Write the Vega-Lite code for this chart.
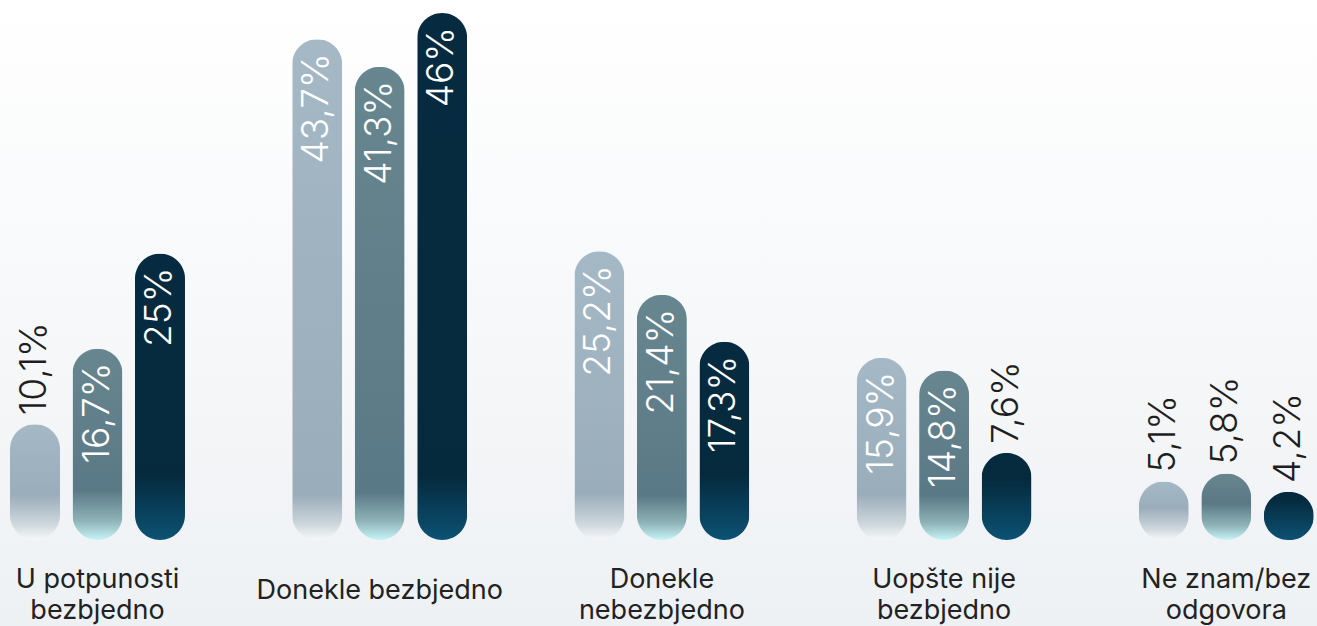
{
  "$schema": "https://vega.github.io/schema/vega-lite/v6.json",
  "width": 1317,
  "height": 626,
  "autosize": {"type": "none"},
  "padding": 0,
  "background": "#f3f5f7",
  "config": {
    "view": {"stroke": null, "fill": {"gradient": "linear", "x1": 0, "y1": 0, "x2": 0, "y2": 1, "stops": [{"offset": 0, "color": "#ffffff"}, {"offset": 1, "color": "#eef1f4"}]}},
    "font": "Inter"
  },
  "data": {
    "values": [
      {"cat": "U potpunosti bezbjedno", "series": "s1", "value": 10.1, "label": "10,1%"},
      {"cat": "U potpunosti bezbjedno", "series": "s2", "value": 16.7, "label": "16,7%"},
      {"cat": "U potpunosti bezbjedno", "series": "s3", "value": 25, "label": "25%"},
      {"cat": "Donekle bezbjedno", "series": "s1", "value": 43.7, "label": "43,7%"},
      {"cat": "Donekle bezbjedno", "series": "s2", "value": 41.3, "label": "41,3%"},
      {"cat": "Donekle bezbjedno", "series": "s3", "value": 46, "label": "46%"},
      {"cat": "Donekle nebezbjedno", "series": "s1", "value": 25.2, "label": "25,2%"},
      {"cat": "Donekle nebezbjedno", "series": "s2", "value": 21.4, "label": "21,4%"},
      {"cat": "Donekle nebezbjedno", "series": "s3", "value": 17.3, "label": "17,3%"},
      {"cat": "Uopšte nije bezbjedno", "series": "s1", "value": 15.9, "label": "15,9%"},
      {"cat": "Uopšte nije bezbjedno", "series": "s2", "value": 14.8, "label": "14,8%"},
      {"cat": "Uopšte nije bezbjedno", "series": "s3", "value": 7.6, "label": "7,6%"},
      {"cat": "Ne znam/bez odgovora", "series": "s1", "value": 5.1, "label": "5,1%"},
      {"cat": "Ne znam/bez odgovora", "series": "s2", "value": 5.8, "label": "5,8%"},
      {"cat": "Ne znam/bez odgovora", "series": "s3", "value": 4.2, "label": "4,2%"}
    ]
  },
  "encoding": {
    "x": {
      "field": "cat", "type": "nominal", "sort": null,
      "scale": {"range": [-43.6, 1367.4], "paddingInner": 0.3356, "paddingOuter": 0.1678},
      "axis": {
        "title": null, "domain": false, "ticks": false, "tickSize": 0, "labelAngle": 0,
        "offset": -86,
        "labelPadding": {"condition": {"test": "datum.value == 'Donekle bezbjedno'", "value": 50}, "value": 39},
        "labelBaseline": "middle",
        "labelFontSize": 27, "labelColor": "#222222", "labelFont": "Inter", "labelLineHeight": 31, "labelLimit": 0,
        "labelExpr": "datum.value == 'U potpunosti bezbjedno' ? ['U potpunosti', 'bezbjedno'] : datum.value == 'Donekle nebezbjedno' ? ['Donekle', 'nebezbjedno'] : datum.value == 'Uopšte nije bezbjedno' ? ['Uopšte nije', 'bezbjedno'] : datum.value == 'Ne znam/bez odgovora' ? ['Ne znam/bez', 'odgovora'] : datum.value",
        "labelOverlap": false, "labelBound": false
      }
    },
    "xOffset": {"field": "series", "type": "nominal", "scale": {"domain": ["s1", "s2", "s3"], "paddingInner": 0.2, "paddingOuter": 0.1}},
    "y": {"field": "value", "type": "quantitative", "scale": {"domain": [0, 46], "range": [540, 13], "nice": false, "zero": true}, "axis": null}
  },
  "layer": [
    {
      "transform": [{"filter": "datum.series == 's1'"}],
      "mark": {"type": "bar", "cornerRadius": 25},
      "encoding": {
        "fill": {
          "condition": [
            {"test": "datum.value > 35", "value": {"gradient": "linear", "x1": 0, "y1": 0, "x2": 0, "y2": 1, "stops": [{"offset": 0, "color": "#a5b8c5"}, {"offset": 0.91, "color": "#9aadba"}, {"offset": 0.964, "color": "#c9d3d9"}, {"offset": 1, "color": "#f6f7f8"}]}},
            {"test": "datum.value > 20", "value": {"gradient": "linear", "x1": 0, "y1": 0, "x2": 0, "y2": 1, "stops": [{"offset": 0, "color": "#a5b8c5"}, {"offset": 0.84, "color": "#9aadba"}, {"offset": 0.936, "color": "#c9d3d9"}, {"offset": 1, "color": "#f6f7f8"}]}},
            {"test": "datum.value > 12", "value": {"gradient": "linear", "x1": 0, "y1": 0, "x2": 0, "y2": 1, "stops": [{"offset": 0, "color": "#a5b8c5"}, {"offset": 0.75, "color": "#9aadba"}, {"offset": 0.9, "color": "#c9d3d9"}, {"offset": 1, "color": "#f6f7f8"}]}},
            {"test": "datum.value > 7", "value": {"gradient": "linear", "x1": 0, "y1": 0, "x2": 0, "y2": 1, "stops": [{"offset": 0, "color": "#a5b8c5"}, {"offset": 0.61, "color": "#9aadba"}, {"offset": 0.84, "color": "#c9d3d9"}, {"offset": 1, "color": "#f6f7f8"}]}}
          ],
          "value": {"gradient": "linear", "x1": 0, "y1": 0, "x2": 0, "y2": 1, "stops": [{"offset": 0, "color": "#a5b8c5"}, {"offset": 0.45, "color": "#9aadba"}, {"offset": 0.78, "color": "#c9d3d9"}, {"offset": 1, "color": "#f6f7f8"}]}
        }
      }
    },
    {
      "transform": [{"filter": "datum.series == 's2'"}],
      "mark": {"type": "bar", "cornerRadius": 25},
      "encoding": {
        "fill": {
          "condition": [
            {"test": "datum.value > 35", "value": {"gradient": "linear", "x1": 0, "y1": 0, "x2": 0, "y2": 1, "stops": [{"offset": 0, "color": "#67868f"}, {"offset": 0.9, "color": "#5a7986"}, {"offset": 0.96, "color": "#8fb3b8"}, {"offset": 1, "color": "#c6f4f6"}]}},
            {"test": "datum.value > 20", "value": {"gradient": "linear", "x1": 0, "y1": 0, "x2": 0, "y2": 1, "stops": [{"offset": 0, "color": "#67868f"}, {"offset": 0.82, "color": "#5a7986"}, {"offset": 0.93, "color": "#8fb3b8"}, {"offset": 1, "color": "#c6f4f6"}]}},
            {"test": "datum.value > 12", "value": {"gradient": "linear", "x1": 0, "y1": 0, "x2": 0, "y2": 1, "stops": [{"offset": 0, "color": "#67868f"}, {"offset": 0.74, "color": "#5a7986"}, {"offset": 0.9, "color": "#8fb3b8"}, {"offset": 1, "color": "#c6f4f6"}]}}
          ],
          "value": {"gradient": "linear", "x1": 0, "y1": 0, "x2": 0, "y2": 1, "stops": [{"offset": 0, "color": "#67868f"}, {"offset": 0.45, "color": "#5a7986"}, {"offset": 0.78, "color": "#8fb3b8"}, {"offset": 1, "color": "#c6f4f6"}]}
        }
      }
    },
    {
      "transform": [{"filter": "datum.series == 's3'"}],
      "mark": {"type": "bar", "cornerRadius": 25},
      "encoding": {
        "fill": {
          "condition": [
            {"test": "datum.value > 35", "value": {"gradient": "linear", "x1": 0, "y1": 0, "x2": 0, "y2": 1, "stops": [{"offset": 0, "color": "#062b40"}, {"offset": 0.88, "color": "#052a3d"}, {"offset": 1, "color": "#0c5274"}]}},
            {"test": "datum.value > 20", "value": {"gradient": "linear", "x1": 0, "y1": 0, "x2": 0, "y2": 1, "stops": [{"offset": 0, "color": "#062b40"}, {"offset": 0.77, "color": "#052a3d"}, {"offset": 1, "color": "#0c5274"}]}},
            {"test": "datum.value > 12", "value": {"gradient": "linear", "x1": 0, "y1": 0, "x2": 0, "y2": 1, "stops": [{"offset": 0, "color": "#062b40"}, {"offset": 0.67, "color": "#052a3d"}, {"offset": 1, "color": "#0c5274"}]}},
            {"test": "datum.value > 7", "value": {"gradient": "linear", "x1": 0, "y1": 0, "x2": 0, "y2": 1, "stops": [{"offset": 0, "color": "#062b40"}, {"offset": 0.3, "color": "#052a3d"}, {"offset": 1, "color": "#0c5274"}]}}
          ],
          "value": {"gradient": "linear", "x1": 0, "y1": 0, "x2": 0, "y2": 1, "stops": [{"offset": 0, "color": "#062b40"}, {"offset": 0.15, "color": "#052a3d"}, {"offset": 1, "color": "#0c5274"}]}
        }
      }
    },
    {
      "transform": [{"filter": "datum.value >= 12"}],
      "mark": {"type": "text", "angle": 270, "align": "right", "baseline": "middle", "dx": -14, "fontSize": 37, "font": "Inter", "fontWeight": 300, "color": "#ffffff"},
      "encoding": {"text": {"field": "label"}}
    },
    {
      "transform": [{"filter": "datum.value < 12"}],
      "mark": {"type": "text", "angle": 270, "align": "left", "baseline": "middle", "dx": 9, "fontSize": 37, "font": "Inter", "fontWeight": 300, "color": "#1e1e1e"},
      "encoding": {"text": {"field": "label"}}
    }
  ]
}
